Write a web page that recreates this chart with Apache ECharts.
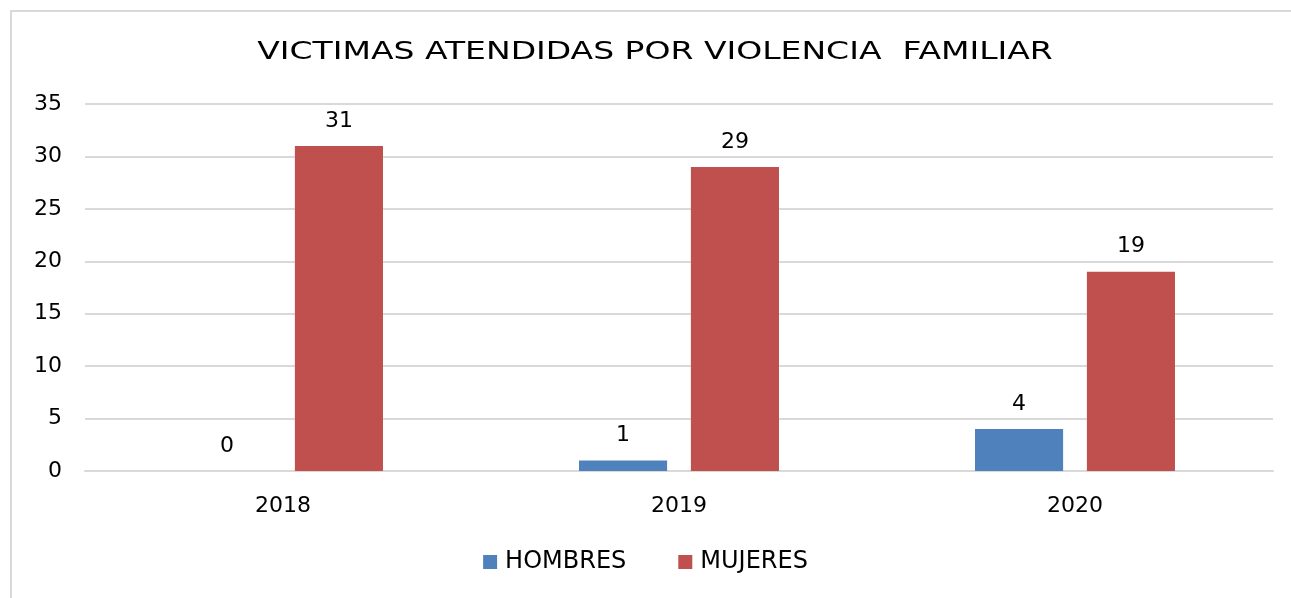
<!DOCTYPE html>
<html>
<head>
<meta charset="utf-8">
<script src="https://cdn.jsdelivr.net/npm/echarts@6/dist/echarts.min.js"></script>
<style>
html,body{margin:0;padding:0;background:#fff;overflow:hidden;}
#chart{position:absolute;left:0;top:0;width:1291px;height:598px;}
</style>
</head>
<body>
<div id="chart"></div>
<script>
const titleText = 'VICTIMAS ATENDIDAS POR VIOLENCIA  FAMILIAR';
const categories = ['2018', '2019', '2020'];
const seriesNames = ['HOMBRES', 'MUJERES'];
const hombres = [0, 1, 4];
const mujeres = [31, 29, 19];
const colors = ['#4F81BD', '#C0504D'];

const font = "'DejaVu Sans', 'Open Sans', sans-serif";
const chart = echarts.init(document.getElementById('chart'), null, {renderer: 'canvas'});
chart.setOption({
  animation: false,
  backgroundColor: '#fff',
  graphic: [{
    type: 'polyline',
    silent: true,
    z: -10,
    shape: {points: [[11, 598], [11, 11], [1291, 11]]},
    style: {fill: 'none', stroke: '#d9d9d9', lineWidth: 2}
  }, {
    type: 'text',
    x: 655,
    y: 52,
    scaleX: 1.32,
    style: {
      text: titleText,
      fontFamily: font,
      fontSize: 25,
      fill: '#000',
      textAlign: 'center',
      textVerticalAlign: 'middle'
    }
  }],
  legend: {
    bottom: 19,
    left: 'center',
    itemWidth: 14,
    itemHeight: 14,
    itemGap: 52,
    icon: 'rect',
    textStyle: {fontFamily: font, fontSize: 24, color: '#000', padding: [0, 0, 0, 3]},
    data: seriesNames
  },
  grid: {left: 85, right: 18, top: 104, bottom: 127, containLabel: false},
  xAxis: {
    type: 'category',
    data: categories,
    axisLine: {lineStyle: {color: '#d9d9d9', width: 2}},
    axisTick: {show: false},
    axisLabel: {fontFamily: font, fontSize: 22, color: '#000', margin: 24}
  },
  yAxis: {
    type: 'value',
    min: 0, max: 35, interval: 5,
    axisLine: {show: false},
    axisTick: {show: false},
    splitLine: {lineStyle: {color: '#d9d9d9', width: 2}},
    axisLabel: {fontFamily: font, fontSize: 22, color: '#000', margin: 23}
  },
  series: [
    {
      name: seriesNames[0], type: 'bar', data: hombres,
      itemStyle: {color: colors[0]},
      barGap: '27%', barCategoryGap: '49.5%',
      label: {show: true, position: 'top', distance: 14, fontFamily: font, fontSize: 22, color: '#000'}
    },
    {
      name: seriesNames[1], type: 'bar', data: mujeres,
      itemStyle: {color: colors[1]},
      barGap: '27%', barCategoryGap: '49.5%',
      label: {show: true, position: 'top', distance: 14, fontFamily: font, fontSize: 22, color: '#000'}
    }
  ]
});
</script>
</body>
</html>
